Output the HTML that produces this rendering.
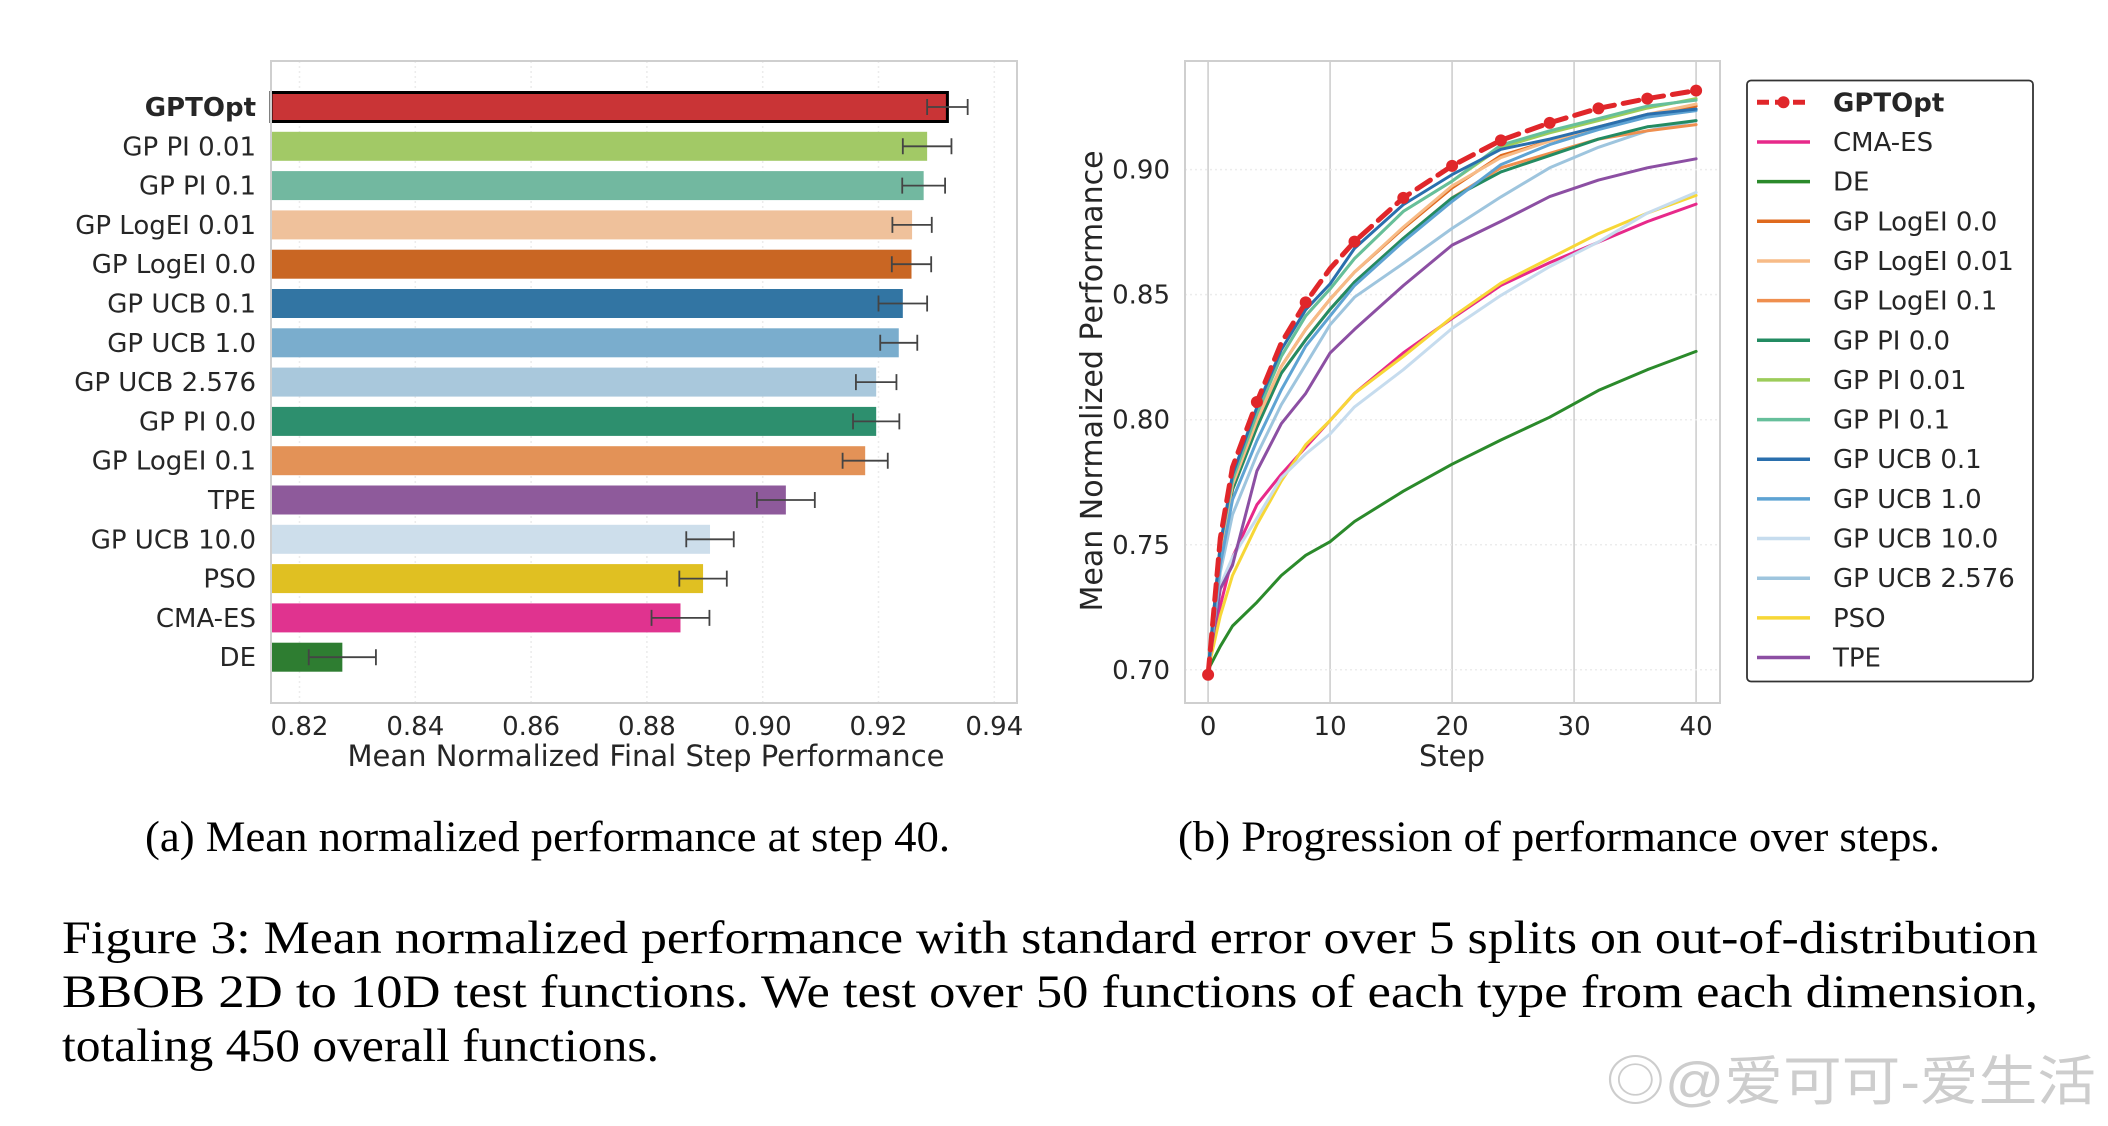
<!DOCTYPE html>
<html><head><meta charset="utf-8"><style>
html,body{margin:0;padding:0;background:#fff;}
svg{display:block;}
text{font-family:"DejaVu Sans","Liberation Sans",sans-serif;fill:#262626;}
.serif{font-family:"Liberation Serif",serif;fill:#000;}
</style></head><body>
<svg id="fig" width="2108" height="1126" viewBox="0 0 2108 1126" xmlns="http://www.w3.org/2000/svg">
<g id="left"></g>
<g id="right"></g>
<text class="serif" x="145" y="851" font-size="43" textLength="805" lengthAdjust="spacingAndGlyphs">(a) Mean normalized performance at step 40.</text>
<text class="serif" x="1178" y="851" font-size="43" textLength="762" lengthAdjust="spacingAndGlyphs">(b) Progression of performance over steps.</text>
<text class="serif" x="62" y="953" font-size="47" textLength="1976" lengthAdjust="spacingAndGlyphs">Figure 3:  Mean normalized performance with standard error over 5 splits on out-of-distribution</text>
<text class="serif" x="62" y="1007" font-size="47" textLength="1976" lengthAdjust="spacingAndGlyphs">BBOB 2D to 10D test functions.  We test over 50 functions of each type from each dimension,</text>
<text class="serif" x="62" y="1061" font-size="47" textLength="597" lengthAdjust="spacingAndGlyphs">totaling 450 overall functions.</text>
<text x="1606" y="1100" font-size="54" style="fill:#cdcdcd;font-family:'Liberation Sans','Noto Sans CJK SC',sans-serif" textLength="490" lengthAdjust="spacingAndGlyphs">◎@爱可可-爱生活</text>
</svg>
<script>
// ---------- Bar chart data ----------
const barLabels = ["GPTOpt","GP PI 0.01","GP PI 0.1","GP LogEI 0.01","GP LogEI 0.0","GP UCB 0.1","GP UCB 1.0","GP UCB 2.576","GP PI 0.0","GP LogEI 0.1","TPE","GP UCB 10.0","PSO","CMA-ES","DE"];
const barValues = [0.9319,0.9284,0.9278,0.9258,0.9257,0.9242,0.9235,0.9196,0.9196,0.9177,0.9040,0.8909,0.8897,0.8858,0.8274];
const barErrors = [0.0035,0.0042,0.0037,0.0034,0.0034,0.0042,0.0032,0.0035,0.0040,0.0039,0.0050,0.0041,0.0041,0.0050,0.0058];
const barColors = ["#c93436","#a2c966","#72b8a0","#efc19b","#c96623","#3275a3","#7aadcd","#a9c8dc","#2d8f6e","#e39257","#8e5a9b","#cddeeb","#e0c022","#e0338f","#2e7d31"];
const barTicks = [0.82,0.84,0.86,0.88,0.90,0.92,0.94];

// ---------- Line chart data ----------
const steps = [0,1,2,4,6,8,10,12,16,20,24,28,32,36,40];
const seriesNames = ["GPTOpt","CMA-ES","DE","GP LogEI 0.0","GP LogEI 0.01","GP LogEI 0.1","GP PI 0.0","GP PI 0.01","GP PI 0.1","GP UCB 0.1","GP UCB 1.0","GP UCB 10.0","GP UCB 2.576","PSO","TPE"];
const seriesColors = ["#e0262a","#e7298a","#2b8a2b","#df6a1e","#f7bb87","#ef8f4f","#238b62","#9ccc5a","#66bf9b","#2a6fad","#5ea3d3","#c6dcee","#9ec5de","#f7d737","#8c4fa3"];
const sGPTOpt  = [0.698,0.7526,0.7810,0.8071,0.8307,0.8469,0.8604,0.8712,0.8887,0.9015,0.9117,0.9187,0.9245,0.9284,0.9316];
const sCMAES   = [0.700,0.7256,0.7450,0.7660,0.7782,0.7890,0.7997,0.8105,0.8267,0.8405,0.8537,0.8628,0.8710,0.8792,0.8862];
const sDE      = [0.700,0.7094,0.7175,0.7270,0.7377,0.7458,0.7512,0.7593,0.7714,0.7822,0.7919,0.8010,0.8117,0.8200,0.8273];
const sLogEI00 = [0.700,0.7480,0.7740,0.7997,0.8213,0.8361,0.8482,0.8590,0.8765,0.8927,0.9056,0.9114,0.9163,0.9213,0.9254];
const sLogEI001= [0.700,0.7480,0.7740,0.7997,0.8213,0.8361,0.8482,0.8590,0.8770,0.8935,0.9048,0.9114,0.9171,0.9221,0.9262];
const sLogEI01 = [0.700,0.7460,0.7720,0.7970,0.8186,0.8320,0.8442,0.8550,0.8725,0.8887,0.9007,0.9065,0.9122,0.9155,0.9180];
const sPI00    = [0.700,0.7460,0.7720,0.7970,0.8186,0.8320,0.8442,0.8550,0.8725,0.8887,0.8991,0.9056,0.9122,0.9171,0.9196];
const sPI001   = [0.700,0.7500,0.7760,0.8024,0.8253,0.8415,0.8523,0.8644,0.8833,0.8954,0.9089,0.9147,0.9196,0.9246,0.9284];
const sPI01    = [0.700,0.7500,0.7760,0.8024,0.8253,0.8415,0.8523,0.8644,0.8833,0.8954,0.9098,0.9155,0.9204,0.9254,0.9278];
const sUCB01   = [0.700,0.7500,0.7780,0.8050,0.8280,0.8440,0.8543,0.8685,0.8860,0.8980,0.9081,0.9122,0.9171,0.9221,0.9242];
const sUCB10   = [0.700,0.7420,0.7680,0.7916,0.8119,0.8294,0.8415,0.8536,0.8712,0.8873,0.9020,0.9100,0.9160,0.9210,0.9236];
const sUCB100  = [0.700,0.7337,0.7450,0.7606,0.7768,0.7863,0.7943,0.8051,0.8200,0.8365,0.8497,0.8612,0.8711,0.8826,0.8909];
const sUCB2576 = [0.700,0.7390,0.7620,0.7860,0.8060,0.8220,0.8380,0.8490,0.8625,0.8765,0.8891,0.9007,0.9089,0.9155,0.9196];
const sPSO     = [0.700,0.7216,0.7377,0.7580,0.7755,0.7900,0.7997,0.8105,0.8253,0.8410,0.8546,0.8645,0.8744,0.8826,0.8897];
const sTPE     = [0.700,0.7323,0.7418,0.7795,0.7984,0.8105,0.8267,0.8361,0.8536,0.8698,0.8793,0.8892,0.8958,0.9007,0.9043];
const seriesValues = [sGPTOpt,sCMAES,sDE,sLogEI00,sLogEI001,sLogEI01,sPI00,sPI001,sPI01,sUCB01,sUCB10,sUCB100,sUCB2576,sPSO,sTPE];
const xTicks = [0,10,20,30,40];
const yTicks = [0.70,0.75,0.80,0.85,0.90];
const yTickLabels = ["0.70","0.75","0.80","0.85","0.90"];

const NS = "http://www.w3.org/2000/svg";
function mk(parent, tag, attrs, txt) {
  const e = document.createElementNS(NS, tag);
  for (const k in attrs) e.setAttribute(k, attrs[k]);
  if (txt !== undefined) e.textContent = txt;
  parent.appendChild(e);
  return e;
}

// ---------- Left: bar chart ----------
(function(){
  const g = document.getElementById('left');
  const L = 271, R = 1017, T = 61, B = 703;
  const xs = v => 299.5 + (v - 0.82) * 5790;
  const ys = i => 107 + i * 39.3;
  const bh = 29;
  barTicks.forEach(t => {
    const gl = mk(g, 'line', {x1: xs(t), x2: xs(t), y1: T, y2: B, stroke: '#ececec', 'stroke-width': 1.5, 'stroke-dasharray': '2,3'});
    
    
    const tl = mk(g, 'text', {x: xs(t), y: 735, 'font-size': 26, 'text-anchor': 'middle'}, t.toFixed(2));
    
    
  });
  barLabels.forEach((lab, i) => {
    const y = ys(i);
    const r = mk(g, 'rect', {x: L, y: y - bh/2, width: xs(barValues[i]) - L, height: bh, fill: barColors[i]});
    if (i === 0) { r.setAttribute('stroke', '#000'); r.setAttribute('stroke-width', 3); }
    
    
    const x1 = xs(barValues[i] - barErrors[i]), x2 = xs(barValues[i] + barErrors[i]);
    const eb = mk(g, 'path', {d: `M${x1},${y}H${x2}M${x1},${y-8}V${y+8}M${x2},${y-8}V${y+8}`, stroke: '#444', 'stroke-width': 1.8, fill: 'none'});
    
    
    const t = mk(g, 'text', {x: 256, y: y + 9, 'font-size': 26, 'text-anchor': 'end', 'font-weight': i === 0 ? 'bold' : 'normal'}, lab);
    
    
  });
  const fr = mk(g, 'rect', {x: L, y: T, width: R - L, height: B - T, fill: 'none', stroke: '#cfcfcf', 'stroke-width': 2});
  
  
  const xt = mk(g, 'text', {x: 646, y: 766, 'font-size': 29, 'text-anchor': 'middle'}, 'Mean Normalized Final Step Performance');
  
  
})();

// ---------- Right: line chart ----------
(function(){
  const g = document.getElementById('right');
  const L = 1185, R = 1720, T = 61, B = 703;
  const xs = s => 1208.1 + s * 12.2;
  const ys = v => 669.8 - (v - 0.70) / 0.05 * 125.05;
  xTicks.forEach(t => {
    const gl = mk(g, 'line', {x1: xs(t), x2: xs(t), y1: T, y2: B, stroke: '#d4d4d4', 'stroke-width': 1.8});
    
    
    const tl = mk(g, 'text', {x: xs(t), y: 735, 'font-size': 26, 'text-anchor': 'middle'}, String(t));
    
    
  });
  yTicks.forEach((t, i) => {
    const gl = mk(g, 'line', {x1: L, x2: R, y1: ys(t), y2: ys(t), stroke: '#ececec', 'stroke-width': 1.5, 'stroke-dasharray': '2,3'});
    
    
    const tl = mk(g, 'text', {x: 1170, y: ys(t) + 9, 'font-size': 26, 'text-anchor': 'end'}, yTickLabels[i]);
    
    
  });
  const order = [2,1,13,11,14,12,5,6,3,4,10,7,8,9,0];
  order.forEach(si => {
    const vals = seriesValues[si];
    const d = steps.map((s, k) => (k ? 'L' : 'M') + xs(s).toFixed(1) + ',' + ys(vals[k]).toFixed(1)).join('');
    const p = mk(g, 'path', {d: d, fill: 'none', stroke: seriesColors[si], 'stroke-width': si === 0 ? 5 : 3, 'stroke-linejoin': 'round', 'stroke-linecap': 'round'});
    if (si === 0) p.setAttribute('stroke-dasharray', '16,9');
    
    
    if (si === 0) {
      steps.forEach((s, k) => {
        if (s % 4 !== 0) return;
        const c = mk(g, 'circle', {cx: xs(s), cy: ys(vals[k]), r: 6, fill: seriesColors[0]});
        
        
      });
    }
  });
  const fr = mk(g, 'rect', {x: L, y: T, width: R - L, height: B - T, fill: 'none', stroke: '#cfcfcf', 'stroke-width': 2});
  
  
  const xt = mk(g, 'text', {x: 1452, y: 766, 'font-size': 29, 'text-anchor': 'middle'}, 'Step');
  
  
  const yt = mk(g, 'text', {x: 0, y: 0, 'font-size': 30, 'text-anchor': 'middle', transform: 'translate(1102,381) rotate(-90)'}, 'Mean Normalized Performance');
  
  
  const lg = mk(g, 'g', {});
  
  
  const box = mk(lg, 'rect', {x: 1747, y: 80.5, width: 286, height: 601, rx: 4, fill: '#fff', stroke: '#333', 'stroke-width': 1.8});
  
  
  seriesNames.forEach((nm, i) => {
    const y = 102.3 + i * 39.66;
    const e = mk(lg, 'g', {});
    
    
    const ln = mk(e, 'line', {x1: 1757, x2: 1810, y1: y, y2: y, stroke: seriesColors[i], 'stroke-width': i === 0 ? 5 : 3.5});
    if (i === 0) {
      ln.setAttribute('stroke-dasharray', '12,6');
      mk(e, 'circle', {cx: 1783.5, cy: y, r: 6, fill: seriesColors[0]});
    }
    mk(e, 'text', {x: 1833, y: y + 9, 'font-size': 26, 'font-weight': i === 0 ? 'bold' : 'normal'}, nm);
  });
})();
</script>
</body></html>
